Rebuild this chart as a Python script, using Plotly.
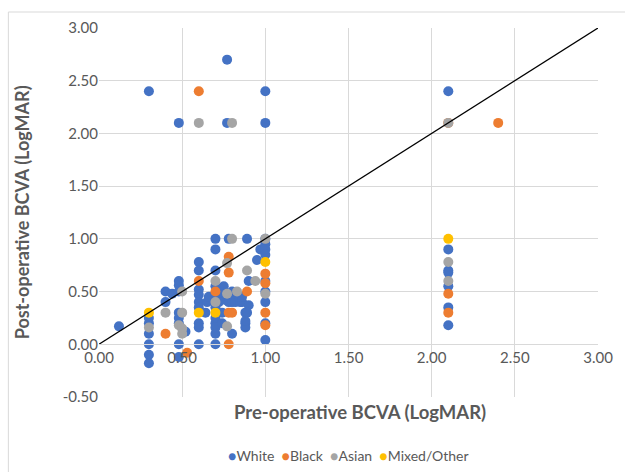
import plotly.graph_objects as go

# ---- data (LogMAR) ----
white_x = [0.12, 0.3, 0.3, 0.3, 0.3, 0.3, 0.3, 0.3,
           0.4, 0.44, 0.4,
           0.48, 0.48, 0.48, 0.48, 0.48, 0.48, 0.48, 0.48, 0.52, 0.48,
           0.6, 0.6, 0.6, 0.6, 0.6, 0.6, 0.6, 0.6, 0.6,
           0.65, 0.66, 0.64,
           0.7, 0.7, 0.7, 0.7, 0.7, 0.7, 0.7, 0.7, 0.7, 0.7, 0.7,
           0.74, 0.73, 0.74, 0.75, 0.72, 0.76, 0.74,
           0.77, 0.77, 0.78, 0.78, 0.78, 0.8, 0.8, 0.82, 0.82, 0.85, 0.8, 0.84,
           0.86, 0.88, 0.88, 0.88, 0.9, 0.89, 0.9, 0.89, 0.88, 0.86,
           0.95, 0.97,
           1.0, 1.0, 1.0, 1.0, 1.0, 1.0, 1.0, 1.0, 1.0, 1.0, 1.0,
           2.1, 2.1, 2.1, 2.1, 2.1, 2.1, 2.1]
white_y = [0.17, 2.4, 0.25, 0.2, 0.1, 0.0, -0.1, -0.18,
           0.5, 0.48, 0.4,
           2.1, 0.6, 0.56, 0.5, 0.3, 0.2, 0.0, -0.12, 0.12, 0.25,
           0.78, 0.7, 0.52, 0.47, 0.4, 0.2, 0.16, 0.0, 0.35,
           0.4, 0.45, 0.3,
           1.0, 0.9, 0.7, 0.55, 0.47, 0.25, 0.2, 0.16, 0.1, 0.0, 0.35,
           0.5, 0.47, 0.3, 0.55, 0.4, 0.42, 0.2,
           2.7, 2.1, 1.0, 0.4, 0.45, 0.1, 0.4, 0.4, 0.47, 0.4, 0.5, 0.45,
           0.4, 0.3, 0.2, 0.16, 0.37, 1.0, 0.6, 0.3, 0.22, 0.45,
           0.8, 0.9,
           2.4, 2.1, 1.0, 0.95, 0.9, 0.85, 0.6, 0.5, 0.4, 0.2, 0.04,
           2.4, 0.9, 0.7, 0.68, 0.55, 0.35, 0.18]

black_x = [0.4, 0.53, 0.6, 0.6, 0.7, 0.78, 0.78, 0.78, 0.8, 0.78, 0.89,
           1.0, 1.0, 1.0, 1.0, 2.1, 2.1, 2.1, 2.4]
black_y = [0.1, -0.08, 2.4, 0.6, 0.5, 0.83, 0.68, 0.3, 0.3, 0.0, 0.5,
           0.67, 0.58, 0.3, 0.18, 2.1, 0.48, 0.3, 2.1]

asian_x = [0.3, 0.4, 0.5, 0.5, 0.48, 0.5, 0.5, 0.6, 0.8, 0.7, 0.7, 0.8,
           0.77, 0.77, 0.83, 0.77, 0.89, 0.94, 1.0, 1.0, 2.1, 2.1, 2.1]
asian_y = [0.16, 0.3, 0.5, 0.3, 0.18, 0.15, 0.1, 2.1, 2.1, 0.6, 0.4, 1.0,
           0.77, 0.48, 0.5, 0.17, 0.7, 0.6, 1.0, 0.48, 2.1, 0.78, 0.6]

mixed_x = [0.3, 0.6, 0.7, 1.0, 2.1]
mixed_y = [0.3, 0.3, 0.3, 0.78, 1.0]

line_x = [0.0, 3.0]
line_y = [0.0, 3.0]

x_ticks = [0.0, 0.5, 1.0, 1.5, 2.0, 2.5, 3.0]
x_tick_labels = ["0.00", "0.50", "1.00", "1.50", "2.00", "2.50", "3.00"]
y_ticks = [-0.5, 0.0, 0.5, 1.0, 1.5, 2.0, 2.5, 3.0]
y_tick_labels = ["-0.50", "0.00", "0.50", "1.00", "1.50", "2.00", "2.50", "3.00"]

series = [
    ("White", white_x, white_y, "#4472C4"),
    ("Black", black_x, black_y, "#ED7D31"),
    ("Asian", asian_x, asian_y, "#A5A5A5"),
    ("Mixed/Other", mixed_x, mixed_y, "#FFC000"),
]

FONT = "Lato, 'Open Sans', sans-serif"
TXT = "#595959"
GRID = "#D9D9D9"

fig = go.Figure()
for name, xs, ys, col in series:
    fig.add_trace(go.Scatter(x=xs, y=ys, mode="markers", name=name,
                             marker=dict(color=col, size=10, line=dict(width=0))))
fig.add_trace(go.Scatter(x=line_x, y=line_y, mode="lines", showlegend=False,
                         line=dict(color="black", width=1.3), hoverinfo="skip"))

W, H = 625, 472
ml, mr, mt, mb = 99, 25, 28, 75
pw, ph = W - ml - mr, H - mt - mb

def px_to_paper_x(px):
    return (px - ml) / pw

def px_to_paper_y(py):
    return (H - mb - py) / ph

legend_text = "  ".join(
    f"<span style='color:{col}'>●</span>{name}" for name, _, _, col in series
)

fig.update_layout(
    width=W, height=H,
    margin=dict(l=ml, r=mr, t=mt, b=mb),
    plot_bgcolor="white", paper_bgcolor="white",
    font=dict(family=FONT, color=TXT, size=15),
    showlegend=False,
    xaxis=dict(range=[0, 3], tickvals=x_ticks, ticktext=x_tick_labels,
               showgrid=True, gridcolor=GRID, gridwidth=1,
               zeroline=False, showline=True, linecolor=GRID, linewidth=1,
               anchor="free", position=(0 - (-0.5)) / 3.5,
               ticks="", tickfont=dict(size=15, color=TXT)),
    yaxis=dict(range=[-0.5, 3], tickvals=y_ticks, ticktext=y_tick_labels,
               showgrid=True, gridcolor=GRID, gridwidth=1,
               zeroline=False, showline=False, ticks="",
               tickfont=dict(size=15, color=TXT)),
    shapes=[dict(type="rect", xref="paper", yref="paper",
                 x0=px_to_paper_x(8), x1=px_to_paper_x(640),
                 y0=px_to_paper_y(490), y1=px_to_paper_y(12),
                 line=dict(color=GRID, width=1), fillcolor="rgba(0,0,0,0)",
                 layer="below")],
    annotations=[
        dict(text="<b>Pre-operative BCVA (LogMAR)</b>", xref="paper", yref="paper",
             x=px_to_paper_x(361), y=px_to_paper_y(412), xanchor="center", yanchor="middle",
             showarrow=False, font=dict(size=18.5, color=TXT, family=FONT)),
        dict(text="<b>Post-operative BCVA (LogMAR)</b>", xref="paper", yref="paper",
             x=px_to_paper_x(22), y=px_to_paper_y(212), xanchor="center", yanchor="middle",
             textangle=-90, showarrow=False, font=dict(size=18, color=TXT, family=FONT)),
        dict(text=legend_text, xref="paper", yref="paper",
             x=px_to_paper_x(349), y=px_to_paper_y(455), xanchor="center", yanchor="middle",
             showarrow=False, font=dict(size=14, color=TXT, family=FONT)),
    ],
)

fig.write_html("out.html", config={"displayModeBar": False},
               post_script="document.body.style.margin='0px';")
